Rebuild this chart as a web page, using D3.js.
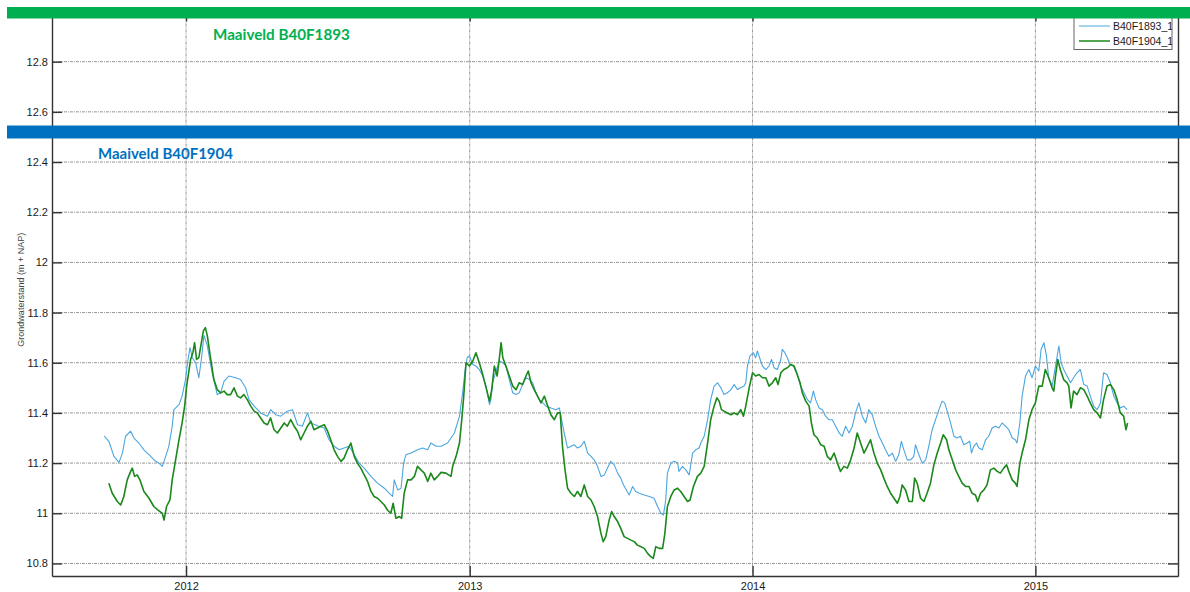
<!DOCTYPE html>
<html>
<head>
<meta charset="utf-8">
<script src="https://cdn.jsdelivr.net/npm/d3@7/dist/d3.min.js"></script>
<style>
  html, body { margin: 0; padding: 0; background: #fff; }
  svg { display: block; }
</style>
</head>
<body>
<svg id="chart" width="1190" height="592"></svg>
<script>
// Groundwater level series, time as decimal years, level in m + NAP
const seriesNames = ["B40F1893_1", "B40F1904_1"];
const seriesColors = ["#4ba6e0", "#1b881b"];

const blueTimes = [
  2011.710,2011.727,2011.745,2011.763,2011.775,2011.786,2011.804,2011.816,2011.833,2011.851,
  2011.875,2011.892,2011.904,2011.916,2011.928,2011.939,2011.951,2011.957,2011.975,2011.986,
  2011.998,2012.006,2012.014,2012.022,2012.034,2012.045,2012.054,2012.063,2012.075,2012.092,
  2012.110,2012.122,2012.134,2012.151,2012.175,2012.192,2012.210,2012.222,2012.240,2012.263,
  2012.287,2012.298,2012.316,2012.334,2012.357,2012.375,2012.393,2012.410,2012.428,2012.440,
  2012.463,2012.487,2012.504,2012.522,2012.540,2012.557,2012.575,2012.593,2012.610,2012.628,
  2012.652,2012.675,2012.699,2012.716,2012.728,2012.734,2012.746,2012.758,2012.767,2012.775,
  2012.793,2012.816,2012.834,2012.852,2012.863,2012.881,2012.899,2012.922,2012.946,2012.964,
  2012.975,2012.984,2012.991,2012.999,2013.011,2013.022,2013.034,2013.046,2013.058,2013.070,
  2013.075,2013.081,2013.093,2013.105,2013.117,2013.128,2013.140,2013.152,2013.164,2013.175,
  2013.187,2013.199,2013.211,2013.223,2013.234,2013.246,2013.258,2013.270,2013.287,2013.305,
  2013.317,2013.325,2013.334,2013.346,2013.358,2013.370,2013.381,2013.393,2013.405,2013.417,
  2013.429,2013.440,2013.452,2013.464,2013.476,2013.487,2013.499,2013.511,2013.523,2013.534,
  2013.544,2013.564,2013.576,2013.587,2013.599,2013.617,2013.635,2013.652,2013.664,2013.676,
  2013.685,2013.693,2013.699,2013.711,2013.723,2013.735,2013.740,2013.752,2013.764,2013.776,
  2013.788,2013.799,2013.811,2013.817,2013.829,2013.841,2013.852,2013.864,2013.876,2013.888,
  2013.899,2013.911,2013.923,2013.935,2013.947,2013.958,2013.970,2013.976,2013.982,2013.991,
  2014.003,2014.011,2014.017,2014.027,2014.035,2014.047,2014.058,2014.067,2014.076,2014.088,
  2014.100,2014.105,2014.114,2014.123,2014.132,2014.144,2014.158,2014.170,2014.182,2014.194,
  2014.205,2014.215,2014.223,2014.235,2014.247,2014.258,2014.270,2014.282,2014.294,2014.306,
  2014.317,2014.329,2014.341,2014.353,2014.364,2014.376,2014.388,2014.400,2014.411,2014.423,
  2014.435,2014.447,2014.459,2014.470,2014.482,2014.494,2014.506,2014.517,2014.526,2014.535,
  2014.547,2014.559,2014.570,2014.576,2014.588,2014.600,2014.612,2014.623,2014.635,2014.647,
  2014.659,2014.670,2014.679,2014.688,2014.700,2014.712,2014.723,2014.735,2014.747,2014.759,
  2014.768,2014.774,2014.782,2014.792,2014.800,2014.812,2014.824,2014.835,2014.847,2014.859,
  2014.871,2014.882,2014.894,2014.906,2014.918,2014.929,2014.935,2014.945,2014.953,2014.965,
  2014.977,2014.988,2015.000,2015.012,2015.020,2015.030,2015.039,2015.047,2015.059,2015.071,
  2015.083,2015.091,2015.100,2015.112,2015.124,2015.135,2015.147,2015.159,2015.171,2015.183,
  2015.194,2015.206,2015.218,2015.230,2015.241,2015.253,2015.265,2015.277,2015.289,2015.300,
  2015.312,2015.324
];
const blueLevels = [
  11.309,11.287,11.227,11.203,11.240,11.307,11.327,11.300,11.280,11.253,
  11.227,11.207,11.200,11.187,11.227,11.267,11.347,11.413,11.433,11.467,
  11.533,11.607,11.660,11.620,11.600,11.540,11.613,11.709,11.667,11.560,
  11.473,11.480,11.527,11.547,11.540,11.533,11.500,11.453,11.427,11.400,
  11.387,11.413,11.393,11.387,11.407,11.413,11.353,11.347,11.400,11.360,
  11.349,11.340,11.293,11.267,11.253,11.260,11.267,11.233,11.200,11.180,
  11.147,11.120,11.100,11.080,11.067,11.133,11.093,11.100,11.200,11.233,
  11.240,11.253,11.260,11.253,11.280,11.267,11.267,11.280,11.320,11.387,
  11.480,11.573,11.620,11.627,11.593,11.587,11.573,11.547,11.507,11.433,
  11.453,11.520,11.567,11.607,11.600,11.587,11.533,11.480,11.473,11.480,
  11.513,11.540,11.533,11.520,11.480,11.453,11.440,11.427,11.420,11.413,
  11.420,11.373,11.320,11.260,11.267,11.273,11.260,11.267,11.287,11.240,
  11.227,11.213,11.187,11.147,11.153,11.180,11.207,11.193,11.160,11.140,
  11.113,11.073,11.107,11.087,11.080,11.073,11.067,11.060,11.027,11.000,
  10.993,11.053,11.160,11.200,11.207,11.200,11.167,11.187,11.173,11.153,
  11.240,11.253,11.260,11.280,11.307,11.373,11.453,11.507,11.520,11.500,
  11.473,11.480,11.493,11.513,11.493,11.500,11.507,11.520,11.587,11.627,
  11.640,11.620,11.647,11.613,11.587,11.573,11.587,11.613,11.580,11.573,
  11.613,11.653,11.640,11.620,11.593,11.587,11.553,11.507,11.480,11.453,
  11.440,11.487,11.453,11.420,11.413,11.387,11.373,11.373,11.347,11.320,
  11.307,11.347,11.320,11.347,11.400,11.440,11.387,11.360,11.413,11.393,
  11.347,11.307,11.280,11.253,11.227,11.240,11.207,11.233,11.287,11.253,
  11.213,11.213,11.227,11.273,11.233,11.200,11.213,11.267,11.333,11.373,
  11.413,11.447,11.440,11.407,11.360,11.307,11.300,11.307,11.273,11.280,
  11.287,11.240,11.267,11.280,11.260,11.253,11.293,11.307,11.340,11.347,
  11.340,11.360,11.347,11.333,11.300,11.293,11.280,11.360,11.467,11.547,
  11.573,11.540,11.587,11.567,11.653,11.680,11.627,11.540,11.507,11.587,
  11.667,11.600,11.573,11.547,11.520,11.540,11.560,11.573,11.513,11.507,
  11.467,11.427,11.413,11.440,11.560,11.553,11.520,11.467,11.440,11.420,
  11.427,11.413
];

const greenTimes = [
  2011.727,2011.739,2011.757,2011.769,2011.780,2011.792,2011.804,2011.810,2011.818,2011.827,
  2011.837,2011.851,2011.869,2011.886,2011.901,2011.916,2011.922,2011.931,2011.943,2011.951,
  2011.963,2011.975,2011.986,2011.995,2012.002,2012.010,2012.016,2012.024,2012.030,2012.037,
  2012.045,2012.054,2012.061,2012.068,2012.075,2012.087,2012.098,2012.110,2012.122,2012.134,
  2012.145,2012.157,2012.169,2012.181,2012.192,2012.204,2012.216,2012.228,2012.240,2012.251,
  2012.263,2012.275,2012.287,2012.298,2012.310,2012.322,2012.334,2012.346,2012.357,2012.369,
  2012.381,2012.393,2012.404,2012.416,2012.428,2012.440,2012.451,2012.463,2012.475,2012.487,
  2012.499,2012.510,2012.522,2012.534,2012.546,2012.557,2012.569,2012.581,2012.593,2012.604,
  2012.616,2012.628,2012.640,2012.652,2012.663,2012.675,2012.687,2012.699,2012.710,2012.722,
  2012.730,2012.740,2012.752,2012.760,2012.769,2012.781,2012.793,2012.805,2012.816,2012.828,
  2012.840,2012.852,2012.863,2012.875,2012.887,2012.899,2012.916,2012.934,2012.940,2012.952,
  2012.964,2012.972,2012.979,2012.987,2012.999,2013.011,2013.022,2013.034,2013.046,2013.058,
  2013.070,2013.078,2013.087,2013.097,2013.105,2013.111,2013.117,2013.128,2013.140,2013.152,
  2013.164,2013.175,2013.187,2013.199,2013.207,2013.217,2013.228,2013.240,2013.252,2013.264,
  2013.276,2013.287,2013.299,2013.311,2013.320,2013.328,2013.337,2013.346,2013.358,2013.370,
  2013.381,2013.393,2013.405,2013.417,2013.429,2013.440,2013.452,2013.464,2013.472,2013.481,
  2013.493,2013.502,2013.511,2013.523,2013.534,2013.546,2013.558,2013.570,2013.582,2013.593,
  2013.605,2013.617,2013.629,2013.640,2013.649,2013.658,2013.670,2013.682,2013.690,2013.699,
  2013.711,2013.723,2013.735,2013.746,2013.758,2013.770,2013.779,2013.791,2013.805,2013.817,
  2013.829,2013.841,2013.852,2013.864,2013.874,2013.882,2013.890,2013.899,2013.911,2013.923,
  2013.935,2013.947,2013.958,2013.968,2013.976,2013.988,2014.000,2014.011,2014.023,2014.035,
  2014.047,2014.058,2014.070,2014.082,2014.090,2014.100,2014.111,2014.123,2014.135,2014.147,
  2014.158,2014.168,2014.176,2014.188,2014.200,2014.208,2014.217,2014.229,2014.241,2014.253,
  2014.264,2014.276,2014.288,2014.300,2014.311,2014.323,2014.335,2014.347,2014.359,2014.370,
  2014.382,2014.394,2014.406,2014.417,2014.429,2014.441,2014.453,2014.464,2014.476,2014.488,
  2014.500,2014.512,2014.521,2014.529,2014.541,2014.553,2014.565,2014.573,2014.582,2014.594,
  2014.606,2014.617,2014.629,2014.641,2014.653,2014.665,2014.674,2014.686,2014.694,2014.706,
  2014.718,2014.729,2014.741,2014.753,2014.765,2014.776,2014.788,2014.796,2014.806,2014.818,
  2014.829,2014.841,2014.853,2014.865,2014.876,2014.888,2014.898,2014.906,2014.918,2014.929,
  2014.935,2014.945,2014.953,2014.965,2014.977,2014.988,2015.000,2015.012,2015.024,2015.035,
  2015.047,2015.059,2015.065,2015.071,2015.079,2015.088,2015.100,2015.112,2015.118,2015.126,
  2015.135,2015.147,2015.159,2015.171,2015.183,2015.194,2015.206,2015.218,2015.230,2015.241,
  2015.253,2015.265,2015.277,2015.289,2015.300,2015.312,2015.320,2015.326
];
const greenLevels = [
  11.120,11.080,11.047,11.033,11.067,11.133,11.167,11.180,11.147,11.153,
  11.133,11.087,11.060,11.027,11.013,11.000,10.973,11.027,11.053,11.133,
  11.213,11.293,11.360,11.427,11.507,11.567,11.613,11.640,11.680,11.613,
  11.620,11.680,11.727,11.740,11.707,11.613,11.533,11.493,11.480,11.487,
  11.473,11.473,11.500,11.467,11.460,11.473,11.453,11.427,11.407,11.400,
  11.380,11.360,11.353,11.380,11.333,11.320,11.340,11.360,11.347,11.373,
  11.347,11.327,11.293,11.320,11.347,11.367,11.333,11.340,11.347,11.353,
  11.327,11.293,11.253,11.227,11.207,11.220,11.253,11.280,11.227,11.200,
  11.180,11.153,11.127,11.087,11.067,11.060,11.047,11.033,11.013,11.000,
  11.040,10.980,10.987,10.980,11.080,11.133,11.133,11.147,11.187,11.173,
  11.160,11.127,11.160,11.133,11.147,11.163,11.160,11.147,11.187,11.227,
  11.280,11.373,11.467,11.600,11.587,11.607,11.640,11.600,11.553,11.500,
  11.447,11.493,11.587,11.547,11.620,11.680,11.620,11.587,11.547,11.507,
  11.493,11.520,11.513,11.547,11.567,11.520,11.493,11.467,11.440,11.467,
  11.427,11.393,11.373,11.400,11.400,11.267,11.173,11.100,11.080,11.067,
  11.087,11.067,11.113,11.067,11.053,11.027,10.987,10.920,10.887,10.907,
  10.973,11.007,10.987,10.967,10.940,10.907,10.900,10.893,10.887,10.873,
  10.867,10.860,10.840,10.827,10.820,10.867,10.860,10.860,10.920,11.027,
  11.067,11.093,11.100,11.087,11.067,11.047,11.053,11.107,11.147,11.160,
  11.187,11.280,11.373,11.427,11.460,11.447,11.413,11.407,11.400,11.393,
  11.400,11.393,11.413,11.387,11.427,11.500,11.560,11.547,11.553,11.540,
  11.540,11.507,11.520,11.540,11.513,11.560,11.573,11.580,11.593,11.587,
  11.553,11.520,11.480,11.447,11.427,11.360,11.313,11.300,11.273,11.267,
  11.227,11.213,11.240,11.200,11.167,11.187,11.180,11.213,11.260,11.320,
  11.280,11.240,11.267,11.293,11.240,11.200,11.173,11.140,11.107,11.080,
  11.060,11.040,11.067,11.113,11.093,11.047,11.047,11.140,11.120,11.060,
  11.047,11.080,11.120,11.193,11.240,11.280,11.313,11.293,11.253,11.213,
  11.173,11.147,11.120,11.107,11.107,11.080,11.073,11.047,11.080,11.093,
  11.113,11.173,11.180,11.167,11.160,11.180,11.193,11.167,11.133,11.120,
  11.107,11.200,11.240,11.293,11.373,11.413,11.440,11.507,11.507,11.573,
  11.540,11.500,11.487,11.547,11.613,11.573,11.533,11.520,11.507,11.420,
  11.487,11.473,11.500,11.493,11.467,11.440,11.413,11.400,11.380,11.453,
  11.507,11.513,11.493,11.453,11.400,11.387,11.333,11.360
];

// Ground level (maaiveld) of both wells, m + NAP
const groundLabels = ["Maaiveld B40F1893", "Maaiveld B40F1904"];
const groundLevels = [12.995, 12.52];
const groundColors = ["#00b050", "#0070c0"];

const yTicks = [10.8, 11, 11.2, 11.4, 11.6, 11.8, 12, 12.2, 12.4, 12.6, 12.8];
const xTickYears = [2012, 2013, 2014, 2015];
const yTitle = "Grondwaterstand (m + NAP)";

// decimal year -> Date
function toDate(t) {
  const y = Math.floor(t);
  const a = Date.UTC(y, 0, 1), b = Date.UTC(y + 1, 0, 1);
  return new Date(a + (t - y) * (b - a));
}

const W = 1190, H = 592;
const plot = { left: 52, right: 1178, top: 11.5, bottom: 576 };
const svg = d3.select("#chart");
const FONT = "'Liberation Sans', Arial, Helvetica, sans-serif";

const x = d3.scaleUtc()
  .domain([new Date(Date.UTC(2011, 6, 12)), new Date(Date.UTC(2015, 6, 4))])
  .range([plot.left, plot.right]);
const y = d3.scaleLinear().domain([10.75, 13.0]).range([plot.bottom, plot.top]);

svg.append("rect").attr("width", W).attr("height", H).attr("fill", "#fff");

// grid
const grid = svg.append("g").attr("stroke", "#8a8a8a").attr("stroke-width", 0.9)
  .attr("stroke-dasharray", "3,1,1,1");
grid.selectAll("line.h").data(yTicks).join("line").attr("class", "h")
  .attr("x1", plot.left).attr("x2", plot.right)
  .attr("y1", d => y(d)).attr("y2", d => y(d));
grid.selectAll("line.v").data(xTickYears).join("line").attr("class", "v")
  .attr("x1", d => x(toDate(d))).attr("x2", d => x(toDate(d)))
  .attr("y1", plot.top).attr("y2", plot.bottom);

// axes
const yearDates = xTickYears.map(toDate);
const axisStyle = g => {
  g.select(".domain").attr("stroke", "#333").attr("stroke-width", 1.4);
  g.selectAll(".tick line").attr("stroke", "#333").attr("stroke-width", 1.4);
  g.selectAll("text").attr("fill", "#1a1a1a").attr("font-family", FONT).attr("font-size", 11);
};
svg.append("g").attr("transform", `translate(${plot.left},0)`)
  .call(d3.axisLeft(y).tickValues(yTicks).tickSizeInner(-10).tickSizeOuter(0).tickPadding(4)
    .tickFormat(d3.format("~g")))
  .call(axisStyle);
svg.append("g").attr("transform", `translate(${plot.right},0)`)
  .call(d3.axisRight(y).tickValues(yTicks).tickSizeInner(-10).tickSizeOuter(0).tickFormat(""))
  .call(axisStyle);
svg.append("g").attr("transform", `translate(0,${plot.bottom})`)
  .call(d3.axisBottom(x).tickValues(yearDates).tickSizeInner(-10).tickSizeOuter(0).tickPadding(6)
    .tickFormat(d3.utcFormat("%Y")))
  .call(axisStyle);
svg.append("g").attr("transform", `translate(0,${plot.top})`)
  .call(d3.axisTop(x).tickValues(yearDates).tickSizeInner(-10).tickSizeOuter(0).tickFormat(""))
  .call(axisStyle);

// y title
svg.append("text")
  .attr("transform", `translate(24,${(plot.top + plot.bottom) / 2 - 4}) rotate(-90)`)
  .attr("text-anchor", "middle")
  .attr("font-family", FONT).attr("font-size", 9).attr("fill", "#444")
  .text(yTitle);

// series
const series = [
  { name: seriesNames[0], color: seriesColors[0], width: 1.1,
    pts: blueTimes.map((t, i) => [toDate(t), blueLevels[i]]) },
  { name: seriesNames[1], color: seriesColors[1], width: 1.6,
    pts: greenTimes.map((t, i) => [toDate(t), greenLevels[i]]) }
];
const line = d3.line().x(d => x(d[0])).y(d => y(d[1]));
svg.append("g").selectAll("path").data(series).join("path")
  .attr("d", d => line(d.pts))
  .attr("fill", "none")
  .attr("stroke", d => d.color)
  .attr("stroke-width", d => d.width)
  .attr("stroke-linejoin", "round");

// legend
const lg = { x: 1074, y: 9, w: 98, h: 40.5 };
svg.append("clipPath").attr("id", "legclip").append("rect")
  .attr("x", lg.x).attr("y", lg.y).attr("width", lg.w).attr("height", lg.h);
const leg = svg.append("g");
leg.append("rect").attr("x", lg.x).attr("y", lg.y).attr("width", lg.w).attr("height", lg.h)
  .attr("fill", "#fff").attr("stroke", "#666").attr("stroke-width", 1);
const items = leg.append("g").attr("clip-path", "url(#legclip)")
  .selectAll("g").data(series).join("g")
  .attr("transform", (d, i) => `translate(0,${26 + i * 15})`);
items.append("line").attr("x1", 1079).attr("x2", 1110)
  .attr("stroke", d => d.color).attr("stroke-width", d => d.width);
items.append("text").attr("x", 1113).attr("y", 4)
  .attr("font-family", FONT).attr("font-size", 10.5).attr("fill", "#1a1a1a")
  .text(d => d.name);

// ground level bands and their labels
const bandWidths = [11.5, 13];
svg.append("g").selectAll("line").data(groundLevels).join("line")
  .attr("x1", 7).attr("x2", W)
  .attr("y1", d => y(d)).attr("y2", d => y(d))
  .attr("stroke", (d, i) => groundColors[i])
  .attr("stroke-width", (d, i) => bandWidths[i]);

const labelPos = [{ x: 213, dy: 27, w: 137 }, { x: 98, dy: 27.5, w: 135 }];
groundLabels.forEach((txt, i) => {
  const t = svg.append("text")
    .attr("x", labelPos[i].x)
    .attr("y", y(groundLevels[i]) + labelPos[i].dy)
    .attr("font-family", "Lato, 'Open Sans', sans-serif")
    .attr("font-weight", 700)
    .attr("font-size", 14)
    .attr("fill", groundColors[i])
    .text(txt);
  const len = t.node().getComputedTextLength();
  if (len > 0) t.attr("font-size", 14 * labelPos[i].w / len);
});
</script>
</body>
</html>
